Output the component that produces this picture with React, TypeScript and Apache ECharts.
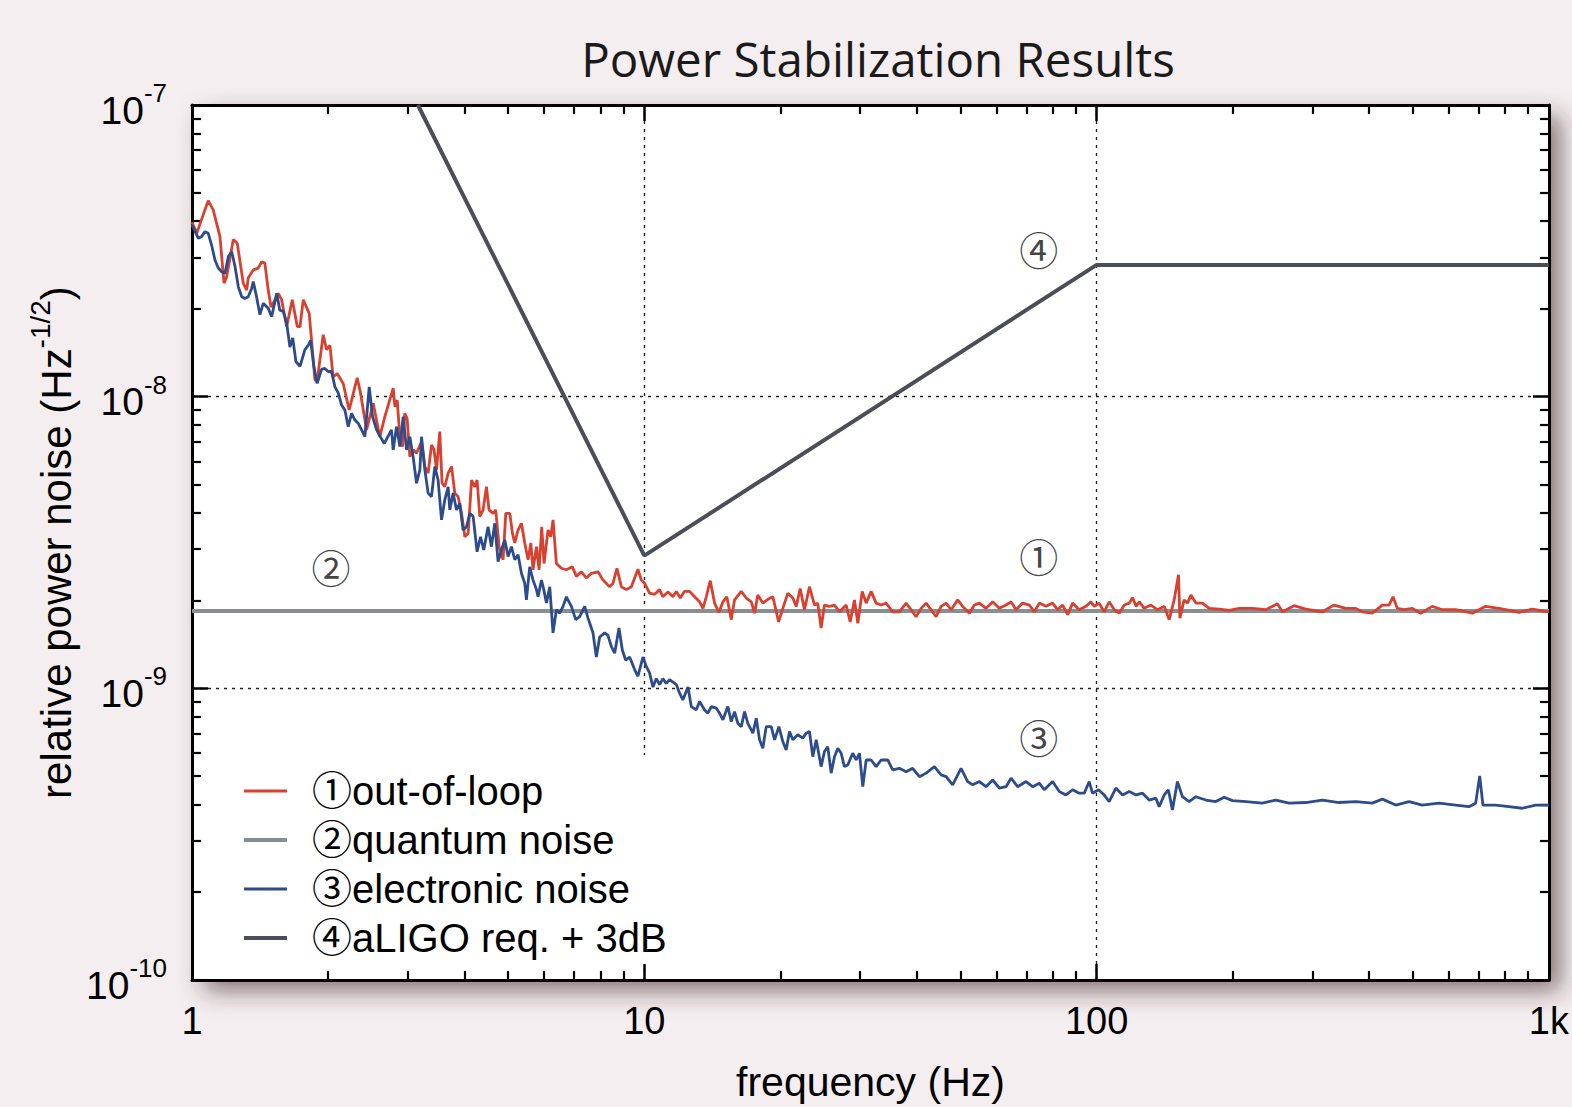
import React, { useEffect, useRef } from 'react';
import * as echarts from 'echarts';

// All noise values are in units of 1e-9 (1/sqrt(Hz)); frequencies in Hz.
const UNIT = 1e-9;

const outOfLoop: [number, number][] = [
  [1.0, 39.7], [1.024, 36.3], [1.086, 47.0], [1.114, 43.7], [1.153, 35.4], [1.177, 24.5], [1.193, 25.8],
  [1.234, 34.6], [1.259, 33.6], [1.298, 24.5], [1.321, 23.2], [1.331, 25.5], [1.366, 27.2], [1.401, 27.6],
  [1.425, 29.0], [1.449, 28.7], [1.474, 23.2], [1.495, 20.3], [1.512, 20.9], [1.551, 22.6], [1.578, 21.5],
  [1.619, 17.4], [1.666, 21.5], [1.709, 17.4], [1.733, 17.4], [1.762, 21.5], [1.816, 19.3], [1.87, 11.4],
  [1.891, 11.3], [1.95, 16.3], [1.984, 14.5], [2.018, 15.0], [2.051, 11.7], [2.094, 12.0], [2.159, 11.1],
  [2.226, 9.0], [2.318, 11.6], [2.358, 10.3], [2.432, 7.69], [2.515, 9.49], [2.602, 7.29], [2.669, 8.54],
  [2.785, 10.7], [2.809, 9.24], [2.842, 9.74], [2.881, 7.29], [2.92, 6.74], [2.954, 8.77], [2.989, 8.43],
  [3.031, 6.23], [3.082, 6.57], [3.136, 6.4], [3.217, 7.01], [3.272, 5.76], [3.327, 5.47], [3.385, 6.83],
  [3.429, 6.57], [3.472, 5.61], [3.53, 7.59], [3.572, 5.05], [3.622, 4.91], [3.684, 5.47], [3.748, 5.76],
  [3.811, 4.67], [3.876, 4.54], [3.944, 3.98], [4.011, 3.31], [4.079, 3.4], [4.15, 5.18], [4.22, 4.91],
  [4.269, 5.18], [4.328, 3.88], [4.401, 4.09], [4.477, 4.91], [4.536, 4.09], [4.63, 3.98], [4.694, 4.09],
  [4.774, 3.06], [4.873, 2.76], [4.94, 3.98], [5.042, 3.98], [5.111, 3.4], [5.171, 3.15], [5.258, 3.49],
  [5.35, 3.68], [5.441, 3.15], [5.534, 2.76], [5.611, 3.15], [5.676, 2.55], [5.775, 3.06], [5.853, 2.55],
  [5.932, 3.58], [6.002, 2.68], [6.126, 3.49], [6.209, 3.31], [6.283, 3.78], [6.392, 2.68], [6.557, 2.58],
  [6.725, 2.55], [6.934, 2.61], [7.076, 2.42], [7.259, 2.51], [7.446, 2.39], [7.638, 2.48], [7.9, 2.51],
  [8.104, 2.35], [8.383, 2.23], [8.525, 2.29], [8.7, 2.58], [8.897, 2.23], [9.127, 2.18], [9.361, 2.23],
  [9.681, 2.56], [9.849, 2.35], [10.02, 2.29], [10.27, 2.12], [10.54, 2.1], [10.81, 2.18], [10.99, 2.06],
  [11.28, 2.14], [11.57, 2.06], [11.77, 2.15], [12.01, 2.04], [12.27, 2.15], [12.59, 2.15], [12.92, 2.06],
  [13.25, 1.98], [13.48, 1.88], [13.71, 2.06], [13.99, 2.34], [14.3, 1.96], [14.62, 1.82], [14.92, 1.98],
  [15.22, 2.06], [15.57, 1.72], [15.83, 2.01], [16.38, 2.15], [16.8, 2.04], [17.24, 1.98], [17.53, 1.81],
  [17.82, 2.09], [18.28, 1.96], [18.76, 2.02], [19.24, 2.06], [19.81, 1.69], [20.24, 1.88], [20.77, 2.12],
  [21.3, 2.04], [21.67, 1.91], [22.11, 2.2], [22.6, 1.86], [23.18, 2.23], [23.78, 1.93], [24.18, 1.96],
  [24.6, 1.61], [25.02, 1.93], [25.66, 1.91], [26.33, 1.93], [27.01, 1.83], [27.94, 1.93], [28.52, 1.69],
  [29.15, 2.01], [29.65, 1.67], [30.32, 2.15], [30.94, 1.96], [31.73, 2.15], [32.55, 1.96], [33.39, 1.93],
  [34.25, 1.96], [35.42, 1.83], [36.64, 1.83], [37.91, 1.96], [38.89, 1.86], [39.89, 1.76], [40.92, 1.88],
  [41.98, 1.96], [43.05, 1.86], [44.17, 1.76], [45.31, 1.91], [46.48, 1.96], [47.68, 1.86], [49.3, 2.01],
  [50.56, 1.91], [52.32, 1.81], [53.66, 1.93], [55.05, 1.96], [56.96, 1.88], [58.91, 1.98], [60.95, 1.88],
  [63.06, 1.93], [64.68, 1.98], [66.36, 1.86], [68.61, 1.96], [71.0, 1.93], [72.8, 1.83], [74.7, 1.96],
  [77.3, 1.91], [79.9, 1.96], [82.0, 1.86], [84.1, 1.93], [86.3, 1.79], [88.5, 1.96], [91.5, 1.86],
  [94.7, 1.91], [97.1, 1.98], [98.8, 1.91], [101.3, 1.96], [103.9, 1.83], [106.6, 1.98], [109.4, 1.86],
  [112.2, 1.81], [115.1, 1.93], [118.1, 1.96], [120.1, 2.05], [122.2, 1.91], [124.3, 1.98], [127.4, 1.88],
  [131.8, 1.93], [136.3, 1.86], [141.1, 1.91], [144.7, 1.72], [148.4, 2.01], [151.7, 2.45], [152.8, 1.74],
  [156.1, 2.01], [158.8, 1.96], [161.6, 2.09], [165.7, 1.96], [171.4, 1.96], [177.4, 1.88], [186.6, 1.87],
  [196.3, 1.85], [206.5, 1.88], [221.0, 1.88], [236.6, 1.86], [251.0, 1.95], [257.5, 1.83], [273.3, 1.92],
  [290.1, 1.87], [315.6, 1.83], [334.9, 1.93], [355.4, 1.88], [374.0, 1.88], [386.8, 1.83], [406.9, 1.81],
  [428.2, 1.93], [443.1, 1.93], [452.2, 2.06], [462.2, 1.88], [478.2, 1.86], [498.9, 1.88], [520.6, 1.81],
  [552.2, 1.91], [581.1, 1.86], [622.1, 1.86], [677, 1.81], [724.8, 1.91], [775.5, 1.88], [802.4, 1.86],
  [858.6, 1.82], [918.8, 1.87], [1000, 1.83],
];

const electronicNoise: [number, number][] = [
  [1.0, 38.8], [1.033, 34.9], [1.051, 35.4], [1.068, 36.8], [1.086, 36.3], [1.105, 33.1], [1.124, 29.4],
  [1.143, 27.6], [1.163, 26.8], [1.183, 26.5], [1.203, 30.2], [1.224, 31.4], [1.245, 27.9], [1.266, 23.8],
  [1.288, 22.0], [1.31, 21.7], [1.331, 22.0], [1.355, 23.5], [1.366, 24.8], [1.389, 22.0], [1.413, 19.1],
  [1.437, 20.9], [1.474, 20.1], [1.5, 18.8], [1.539, 22.6], [1.564, 19.8], [1.591, 19.6], [1.619, 17.9],
  [1.646, 14.8], [1.67, 15.9], [1.697, 13.2], [1.733, 12.7], [1.777, 14.5], [1.807, 15.0], [1.829, 15.6],
  [1.86, 12.7], [1.891, 11.1], [1.934, 12.4], [1.967, 12.5], [2.0, 12.2], [2.035, 12.2], [2.07, 10.8],
  [2.105, 10.3], [2.141, 9.37], [2.178, 9.0], [2.215, 7.89], [2.253, 8.77], [2.291, 8.32], [2.33, 8.11],
  [2.371, 7.69], [2.411, 7.29], [2.465, 10.8], [2.507, 8.54], [2.559, 7.69], [2.66, 6.9], [2.761, 7.69],
  [2.785, 6.57], [2.833, 7.89], [2.881, 6.74], [2.93, 8.54], [2.981, 6.57], [3.031, 7.29], [3.082, 6.23],
  [3.136, 5.05], [3.19, 5.61], [3.217, 7.29], [3.272, 5.61], [3.327, 4.67], [3.385, 4.54], [3.442, 5.76],
  [3.5, 5.18], [3.562, 3.78], [3.622, 4.43], [3.684, 4.91], [3.715, 4.09], [3.778, 4.67], [3.844, 4.09],
  [3.908, 4.31], [3.975, 3.49], [4.045, 3.58], [4.114, 3.98], [4.184, 3.88], [4.269, 2.94], [4.344, 3.31],
  [4.416, 2.98], [4.514, 3.58], [4.592, 3.06], [4.671, 3.68], [4.75, 2.72], [4.832, 2.98], [4.914, 3.23],
  [4.998, 2.83], [5.085, 3.06], [5.171, 2.76], [5.258, 2.87], [5.35, 2.48], [5.441, 2.29], [5.487, 2.01],
  [5.58, 2.61], [5.676, 2.35], [5.775, 2.18], [5.822, 2.06], [5.924, 2.35], [5.994, 2.18], [6.076, 1.96],
  [6.18, 2.23], [6.283, 1.55], [6.392, 1.86], [6.501, 1.81], [6.612, 1.91], [6.725, 2.06], [6.899, 1.91],
  [7.051, 1.72], [7.196, 1.76], [7.383, 1.91], [7.508, 1.74], [7.7, 1.55], [7.834, 1.28], [7.967, 1.5],
  [8.172, 1.55], [8.311, 1.52], [8.456, 1.39], [8.6, 1.32], [8.79, 1.61], [8.943, 1.35], [9.093, 1.25],
  [9.28, 1.28], [9.519, 1.16], [9.681, 1.1], [9.93, 1.28], [10.1, 1.19], [10.27, 1.13], [10.45, 1.01],
  [10.63, 1.08], [10.81, 1.03], [10.99, 1.08], [11.18, 1.04], [11.37, 1.07], [11.57, 1.05], [11.77, 1.03],
  [11.97, 0.962], [12.17, 0.913], [12.49, 1.01], [12.7, 0.866], [13.03, 0.844], [13.25, 0.901], [13.58, 0.844],
  [13.82, 0.822], [14.06, 0.866], [14.43, 0.855], [14.67, 0.822], [14.92, 0.78], [15.3, 0.866], [15.57, 0.769],
  [15.83, 0.832], [16.1, 0.759], [16.38, 0.739], [16.66, 0.832], [16.94, 0.759], [17.38, 0.702], [17.68, 0.79],
  [17.98, 0.666], [18.28, 0.623], [18.6, 0.739], [19.08, 0.739], [19.41, 0.666], [19.84, 0.739], [20.24, 0.657],
  [20.59, 0.615], [20.94, 0.711], [21.3, 0.666], [21.84, 0.693], [22.4, 0.675], [22.8, 0.702], [23.18, 0.711],
  [23.58, 0.583], [23.99, 0.666], [24.6, 0.539], [25.02, 0.607], [25.44, 0.631], [25.89, 0.512], [26.33, 0.583],
  [26.78, 0.623], [27.24, 0.599], [27.7, 0.539], [28.17, 0.546], [28.89, 0.599], [29.4, 0.568], [29.9, 0.599],
  [30.41, 0.46], [30.94, 0.568], [31.73, 0.568], [32.55, 0.539], [33.39, 0.568], [34.53, 0.568], [35.42, 0.525],
  [36.64, 0.532], [37.91, 0.518], [39.21, 0.532], [40.57, 0.498], [41.98, 0.512], [43.79, 0.539], [45.31, 0.505],
  [46.48, 0.498], [48.05, 0.467], [50.15, 0.532], [51.86, 0.479], [53.21, 0.467], [55.05, 0.479], [56.96, 0.46],
  [58.91, 0.485], [60.95, 0.455], [63.06, 0.46], [64.68, 0.492], [66.9, 0.46], [69.82, 0.479], [72.19, 0.46],
  [74.7, 0.473], [76.6, 0.449], [79.9, 0.479], [82.7, 0.443], [85.5, 0.431], [88.5, 0.449], [91.5, 0.437],
  [93.9, 0.437], [96.3, 0.479], [97.9, 0.437], [101.0, 0.449], [103.9, 0.431], [106.6, 0.409], [110.3, 0.455],
  [114.1, 0.431], [118.1, 0.443], [122.2, 0.431], [126.3, 0.437], [130.7, 0.414], [135.2, 0.42], [137.5, 0.393],
  [141.1, 0.431], [144.1, 0.449], [147.1, 0.383], [150.9, 0.479], [154.8, 0.425], [160.2, 0.409], [165.7, 0.425],
  [174.4, 0.414], [183.4, 0.409], [191.4, 0.423], [199.7, 0.412], [213.8, 0.409], [232.6, 0.404], [248.9, 0.414],
  [266.5, 0.404], [290.1, 0.406], [315.6, 0.414], [343.5, 0.406], [374.0, 0.409], [406.9, 0.404], [428.2, 0.417],
  [458.4, 0.398], [490.6, 0.409], [524.8, 0.398], [571.3, 0.404], [622.1, 0.398], [665.6, 0.393], [688.7, 0.404],
  [703.0, 0.501], [714.6, 0.398], [762.3, 0.398], [815.6, 0.393], [872.9, 0.388], [934.3, 0.398], [1000, 0.398],
];

const quantumNoise: [number, number][] = [[1, 1.84], [1000, 1.84]];

const aligoRequirement: [number, number][] = [[3.157, 100], [10, 2.85], [100, 28.3], [1000, 28.3]];

// circled labels placed on the plot: [frequency, value, text]
const annotations: [number, number, string][] = [
  [74.5, 32.3, '④'],
  [74.5, 2.87, '①'],
  [2.03, 2.63, '②'],
  [74.5, 0.687, '③'],
];

const seriesNames = ['①out-of-loop', '②quantum noise', '③electronic noise', '④aLIGO req. + 3dB'];
const legendLineWidths = [3, 4, 3, 4];
const xTickLabels: Record<string, string> = { '1': '1', '10': '10', '100': '100', '1000': '1k' };

const COLORS = {
  red: '#d8402f',
  gray: '#878e94',
  blue: '#2e4b8a',
  dark: '#4b4e57',
};

const FONT = "'Liberation Sans', Arial, 'Noto Sans CJK JP', sans-serif";
const CJK = "'Noto Sans CJK JP', 'DejaVu Sans', sans-serif";

const scale = (d: [number, number][]) => d.map(([f, v]) => [f, v * UNIT]);

export default function App() {
  const ref = useRef<HTMLDivElement>(null);

  useEffect(() => {
    if (!ref.current) return;
    const chart = echarts.init(ref.current, undefined, { renderer: 'svg' });

    const axisCommon = {
      type: 'log' as const,
      logBase: 10,
      axisLine: { show: true, onZero: false, lineStyle: { color: '#000', width: 3 } },
      axisTick: { show: true, inside: true, length: 16, lineStyle: { color: '#000', width: 2.5 } },
      minorTick: { show: true, splitNumber: 9, length: 9, lineStyle: { color: '#000', width: 2.2 } },
      minorSplitLine: { show: false },
    };

    const option: any = {
      animation: false,
      backgroundColor: '#f4eef0',
      title: {
        text: 'Power Stabilization Results',
        left: 873,
        top: 29,
        textAlign: 'center',
        textStyle: { fontFamily: "'Open Sans', sans-serif", fontSize: 47.5, fontWeight: 'normal', color: '#1a1a1a' },
      },
      grid: {
        left: 192,
        right: 22,
        top: 105,
        bottom: 127,
        show: true,
        backgroundColor: '#ffffff',
        borderWidth: 0,
        shadowBlur: 24,
        shadowColor: 'rgba(60,40,40,0.6)',
        shadowOffsetX: 12,
        shadowOffsetY: 11,
      },
      xAxis: [
        {
          ...axisCommon,
          position: 'bottom',
          min: 1,
          max: 1000,
          splitLine: { show: true, lineStyle: { type: [3, 5], color: '#222', width: 1.4 } },
          axisLabel: {
            margin: 22,
            fontSize: 38,
            color: '#000',
            fontFamily: FONT,
            formatter: (v: number) => xTickLabels[String(Math.round(v))] ?? '',
          },
          name: 'frequency (Hz)',
          nameLocation: 'middle',
          nameGap: 81,
          nameMoveOverlap: false,
          nameTextStyle: { fontSize: 41, color: '#000', fontFamily: FONT },
        },
        {
          ...axisCommon,
          position: 'top',
          min: 1,
          max: 1000,
          splitLine: { show: false },
          axisLabel: { show: false },
        },
      ],
      yAxis: [
        {
          ...axisCommon,
          position: 'left',
          min: 1e-10,
          max: 1e-7,
          splitLine: { show: true, lineStyle: { type: [3, 5], color: '#222', width: 1.4 } },
          axisLabel: {
            margin: 25,
            color: '#000',
            fontFamily: FONT,
            formatter: (v: number) => `{b|10}{sup|${Math.round(Math.log10(v))}}`,
            rich: {
              b: { fontSize: 39, fontFamily: FONT, color: '#000', lineHeight: 56, padding: [10, 0, 0, 0] },
              sup: { fontSize: 26, fontFamily: FONT, color: '#000', verticalAlign: 'top', lineHeight: 26, padding: [3, 0, 0, 0] },
            },
          },
          name: 'relative power noise (Hz{sup|-1/2})',
          nameLocation: 'middle',
          nameGap: 106,
          nameMoveOverlap: false,
          nameRotate: 90,
          nameTextStyle: {
            fontSize: 42,
            color: '#000',
            fontFamily: FONT,
            lineHeight: 60,
            rich: { sup: { fontSize: 28, fontFamily: FONT, color: '#000', verticalAlign: 'top', lineHeight: 28 } },
          },
        },
        {
          ...axisCommon,
          position: 'right',
          min: 1e-10,
          max: 1e-7,
          splitLine: { show: false },
          axisLabel: { show: false },
        },
      ],
      legend: {
        data: seriesNames.map((name, i) => ({ name, lineStyle: { width: legendLineWidths[i] } })),
        orient: 'vertical',
        left: 212,
        top: 755,
        padding: [16, 26, 6, 30],
        itemGap: 9,
        itemWidth: 43,
        itemHeight: 1,
        itemStyle: { opacity: 0 },
        backgroundColor: '#ffffff',
        selectedMode: false,
        textStyle: { fontSize: 40, color: '#000', fontFamily: FONT, lineHeight: 40, padding: [0, 0, 0, 20] },
      },
      series: [
        {
          name: seriesNames[1],
          type: 'line',
          data: scale(quantumNoise),
          symbol: 'none',
          lineStyle: { color: COLORS.gray, width: 4 },
          itemStyle: { color: COLORS.gray },
          z: 2,
        },
        {
          name: seriesNames[3],
          type: 'line',
          data: scale(aligoRequirement),
          symbol: 'none',
          lineStyle: { color: COLORS.dark, width: 4 },
          itemStyle: { color: COLORS.dark },
          z: 2,
        },
        {
          name: seriesNames[0],
          type: 'line',
          data: scale(outOfLoop),
          symbol: 'none',
          lineStyle: { color: COLORS.red, width: 2.8 },
          itemStyle: { color: COLORS.red },
          z: 3,
        },
        {
          name: seriesNames[2],
          type: 'line',
          data: scale(electronicNoise),
          symbol: 'none',
          lineStyle: { color: COLORS.blue, width: 2.8 },
          itemStyle: { color: COLORS.blue },
          z: 3,
        },
        {
          name: 'annotations',
          type: 'scatter',
          silent: true,
          symbolSize: 1,
          itemStyle: { color: 'rgba(0,0,0,0)' },
          data: annotations.map(([f, v, t]) => ({ value: [f, v * UNIT], name: t })),
          label: {
            show: true,
            position: 'inside',
            formatter: '{b}',
            fontSize: 39,
            color: '#111',
            fontFamily: CJK,
          },
          z: 4,
        },
      ],
    };

    chart.setOption(option);
    return () => chart.dispose();
  }, []);

  return <div ref={ref} style={{ position: 'fixed', left: 0, top: 0, width: 1572, height: 1107 }} />;
}
